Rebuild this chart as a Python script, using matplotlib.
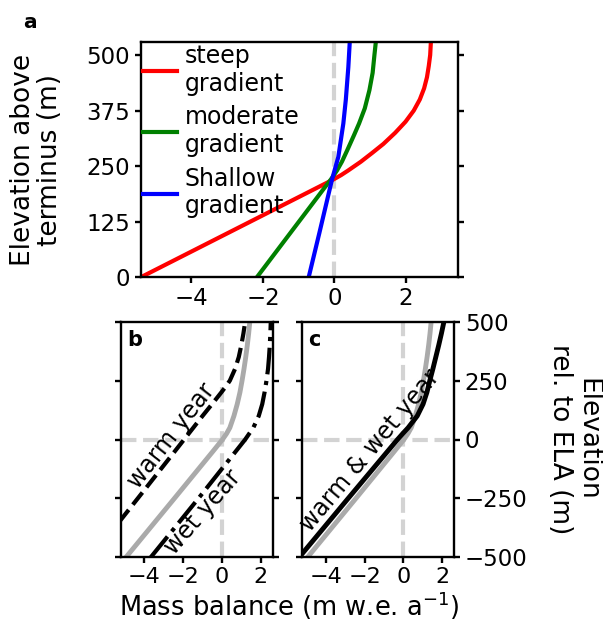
import numpy as np
import matplotlib
matplotlib.use("Agg")
import matplotlib.pyplot as plt

# ── panel a: mass-balance profiles vs elevation above terminus ──────────────
elev_steep = [0, 100, 200, 220, 230, 240, 250, 260, 280, 300, 325, 350, 375, 400, 425, 450, 475, 500, 530]
mb_steep = [-5.42, -2.97, -0.52, -0.03, 0.19, 0.38, 0.56, 0.74, 1.06, 1.37, 1.70, 1.99, 2.22, 2.39, 2.51, 2.59, 2.64, 2.68, 2.70]

elev_moderate = [0, 100, 200, 220, 240, 260, 286, 320, 346, 380, 421, 460, 500, 530]
mb_moderate = [-2.17, -1.23, -0.29, -0.10, 0.07, 0.21, 0.36, 0.55, 0.69, 0.85, 0.98, 1.07, 1.12, 1.16]

elev_shallow = [0, 100, 219, 271, 346, 400, 473, 530]
mb_shallow = [-0.72, -0.42, -0.07, 0.11, 0.25, 0.32, 0.39, 0.43]

labels_a = ["steep\ngradient", "moderate\ngradient", "Shallow\ngradient"]

# ── panels b, c: elevation relative to ELA ─────────────────────────────────
elev_ref = [-500, -250, -50, 0, 25, 50, 100, 150, 200, 250, 300, 350, 400, 450, 500]
mb_ref = [-4.95, -2.45, -0.46, 0.03, 0.24, 0.41, 0.62, 0.79, 0.93, 1.04, 1.14, 1.23, 1.31, 1.38, 1.44]

elev_warm = [-350, -200, 0, 100, 150, 200, 225, 250, 300, 350, 400, 450, 500]
mb_warm = [-5.30, -3.86, -1.95, -1.00, -0.51, -0.03, 0.20, 0.41, 0.68, 0.87, 1.00, 1.11, 1.20]

elev_wet = [-500, -250, 0, 50, 100, 150, 200, 250, 300, 350, 400, 450, 500]
mb_wet = [-3.67, -1.21, 1.20, 1.62, 1.90, 2.08, 2.20, 2.30, 2.38, 2.43, 2.47, 2.50, 2.52]

elev_warmwet = [-500, -250, 0, 25, 50, 100, 150, 200, 250, 300, 350, 400, 450, 500]
mb_warmwet = [-5.38, -2.85, -0.30, -0.03, 0.25, 0.72, 1.02, 1.22, 1.37, 1.53, 1.68, 1.83, 1.97, 2.10]

TICK_FS = 16.5
LAB_FS = 19
plt.rcParams.update({"font.size": TICK_FS, "axes.linewidth": 1.7,
                     "xtick.major.width": 1.7, "ytick.major.width": 1.7,
                     "xtick.major.size": 4.2, "ytick.major.size": 4.2,
                     "xtick.major.pad": 2.5})

W, H = 603, 623
fig = plt.figure(figsize=(W / 100, H / 100), dpi=100)


def rect(l, t, r, b):
    return [l / W, 1 - b / H, (r - l) / W, (b - t) / H]


ax_a = fig.add_axes(rect(140.7, 41.7, 457.7, 277.3))
ax_b = fig.add_axes(rect(120.7, 321.7, 272.7, 557.3))
ax_c = fig.add_axes(rect(302.3, 321.7, 454.0, 557.3))

GRIS = "#d3d3d3"

# ── (a) ────────────────────────────────────────────────────────────────────
ax_a.axvline(0, color=GRIS, ls="--", lw=3, zorder=1)
ax_a.plot(mb_steep, elev_steep, color="red", lw=3, label=labels_a[0])
ax_a.plot(mb_moderate, elev_moderate, color="green", lw=3, label=labels_a[1])
ax_a.plot(mb_shallow, elev_shallow, color="blue", lw=3, label=labels_a[2])
ax_a.set_xlim(-5.42, 3.45)
ax_a.set_ylim(0, 530)
ax_a.set_yticks([0, 125, 250, 375, 500])
ax_a.set_xticks([-4, -2, 0, 2])
ax_a.tick_params(right=True, labelsize=TICK_FS)
ax_a.set_ylabel("Elevation above\nterminus (m)", fontsize=LAB_FS,
                linespacing=1.05)
ax_a.yaxis.set_label_coords(-0.245, 0.5)
ax_a.legend(loc="upper left", frameon=False, fontsize=17, handlelength=1.45,
            handletextpad=0.3, borderpad=0.0, borderaxespad=0.1,
            labelspacing=0.4)
fig.text(30 / W, 1 - 22 / H, "a", fontsize=14.5, fontweight="bold",
         ha="center", va="center")

# ── (b) ────────────────────────────────────────────────────────────────────
for ax in (ax_b, ax_c):
    ax.axvline(0, color=GRIS, ls="--", lw=3, zorder=1)
    ax.axhline(0, color=GRIS, ls="--", lw=3, zorder=1)
    ax.plot(mb_ref, elev_ref, color="#aaaaaa", lw=3.5, zorder=2)
    ax.set_xlim(-5.22, 2.62)
    ax.set_ylim(-500, 500)
    ax.set_xticks([-4, -2, 0, 2])
    ax.set_yticks([-500, -250, 0, 250, 500])
    ax.tick_params(labelsize=TICK_FS)
    ax.tick_params(axis="x", labelsize=16)

ax_b.plot(mb_warm, elev_warm, color="black", lw=3, ls="--", zorder=3)
ax_b.plot(mb_wet, elev_wet, color="black", lw=3, ls="-.", zorder=3)
ax_b.tick_params(right=True, labelleft=False)
ax_b.text(-2.63, 15, "warm year", rotation=52, rotation_mode="anchor",
          ha="center", va="center", fontsize=17)
ax_b.text(-0.96, -310, "wet year", rotation=49, rotation_mode="anchor",
          ha="center", va="center", fontsize=17)
ax_b.text(0.04, 0.965, "b", transform=ax_b.transAxes, fontsize=15,
          fontweight="bold", ha="left", va="top")

# ── (c) ────────────────────────────────────────────────────────────────────
ax_c.plot(mb_warmwet, elev_warmwet, color="black", lw=3.5, zorder=3)
ax_c.tick_params(left=True, right=True, labelleft=False, labelright=True)
ax_c.text(-1.73, -48, "warm & wet year", rotation=50, rotation_mode="anchor",
          ha="center", va="center", fontsize=17)
ax_c.text(0.04, 0.965, "c", transform=ax_c.transAxes, fontsize=15,
          fontweight="bold", ha="left", va="top")
ax_c.yaxis.set_label_position("right")
ax_c.set_ylabel("Elevation\nrel. to ELA (m)", rotation=270, fontsize=LAB_FS,
                ha="center", va="center", linespacing=1.05)
ax_c.yaxis.set_label_coords(1.79, 0.5)

fig.text(289 / W, 1 / H, "Mass balance (m w.e. a$^{-1}$)",
         fontsize=18.5, ha="center", va="bottom")

fig.savefig("out.png", dpi=100)
